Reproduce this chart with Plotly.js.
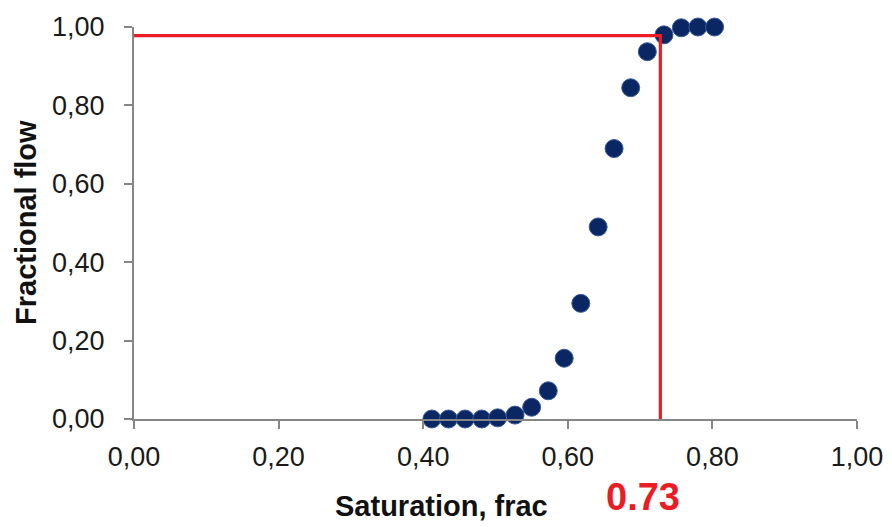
<!DOCTYPE html>
<html>
<head>
<meta charset="utf-8">
<script src="https://cdn.plot.ly/plotly-3.0.1.min.js"></script>
<style>html,body{margin:0;padding:0;background:#fff;}#chart{width:892px;height:527px;}</style>
</head>
<body>
<div id="chart"></div>
<script>
// Data
const saturation = [0.412, 0.435, 0.458, 0.481, 0.503, 0.527, 0.550, 0.573, 0.595, 0.618, 0.642, 0.664, 0.687, 0.710, 0.733, 0.757, 0.780, 0.803];
const fractionalFlow = [0.000, 0.000, 0.000, 0.000, 0.003, 0.010, 0.030, 0.072, 0.155, 0.295, 0.490, 0.690, 0.845, 0.937, 0.980, 0.998, 1.000, 1.000];
const markerX = [0, 0.728, 0.728];
const markerY = [0.978, 0.978, 0];
const tickVals = [0, 0.2, 0.4, 0.6, 0.8, 1.0];
const xTitle = "Saturation, frac";
const yTitle = "Fractional flow";
const markerLabel = "0.73";

const font = "Liberation Sans, Arial, sans-serif";

const traces = [
  {
    x: saturation, y: fractionalFlow, type: "scatter", mode: "markers",
    marker: {size: 18, color: "#0a2764", line: {color: "#3a5a9a", width: 1}},
    cliponaxis: false, hoverinfo: "x+y"
  },
  {
    x: markerX, y: markerY, type: "scatter", mode: "lines",
    line: {color: "#ec1c24", width: 3.2}, cliponaxis: false, hoverinfo: "skip"
  }
];

const axisCommon = {
  range: [0, 1], tickvals: tickVals, tickformat: ".2f",
  showgrid: false, zeroline: false, showline: true,
  linecolor: "#868686", linewidth: 2,
  ticks: "outside", ticklen: 8, tickwidth: 2, tickcolor: "#868686",
  tickfont: {family: font, size: 27, color: "#1a1a1a"},
  fixedrange: true
};

const layout = {
  width: 892, height: 527,
  margin: {l: 134, r: 35, t: 27, b: 108},
  paper_bgcolor: "#ffffff", plot_bgcolor: "#ffffff",
  separators: ", ",
  showlegend: false,
  xaxis: Object.assign({}, axisCommon, {ticklabelstandoff: 5}),
  yaxis: Object.assign({}, axisCommon, {ticklabelstandoff: 14}),
  annotations: [
    {text: "<b>" + xTitle + "</b>", xref: "paper", yref: "paper",
     x: (441 - 134) / 723, y: (419 - 506) / 392, xanchor: "center", yanchor: "middle",
     showarrow: false, font: {family: font, size: 29, color: "#111"}},
    {text: "<b>" + yTitle + "</b>", xref: "paper", yref: "paper",
     x: (26 - 134) / 723, y: 0.5, xanchor: "center", yanchor: "middle", textangle: -90,
     showarrow: false, font: {family: font, size: 29, color: "#111"}},
    {text: "<b>" + markerLabel + "</b>", xref: "x", yref: "paper",
     x: markerX[1] + (643 - 660) / 723, y: (419 - 497) / 392, xanchor: "center", yanchor: "middle",
     showarrow: false, font: {family: font, size: 38, color: "#ec1c24"}}
  ]
};

Plotly.newPlot("chart", traces, layout, {displayModeBar: false, staticPlot: true});
</script>
</body>
</html>
